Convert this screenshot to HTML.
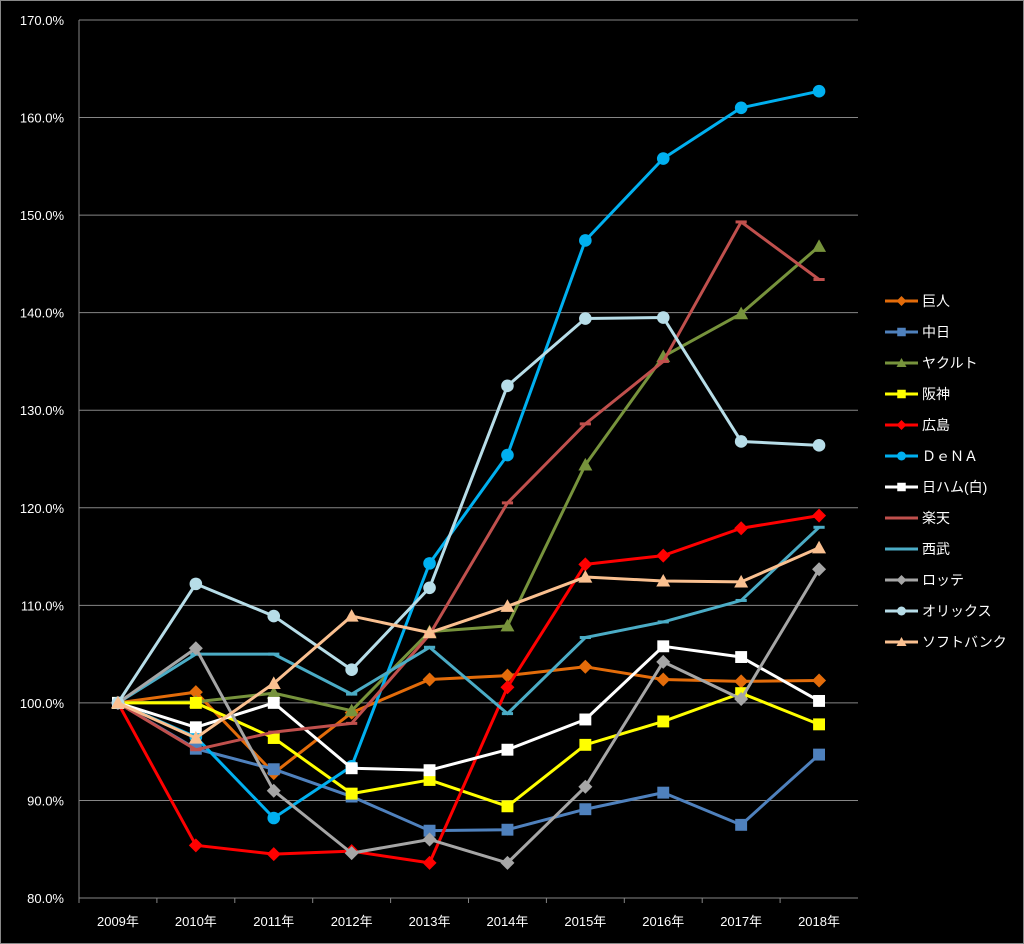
<!DOCTYPE html>
<html><head><meta charset="utf-8"><style>
body{margin:0;background:#000;}
svg{display:block;font-family:"Liberation Sans","Noto Sans CJK JP",sans-serif;}
</style></head><body>
<svg id="chart" width="1024" height="944">
<rect x="0.5" y="0.5" width="1023" height="943" fill="#000" stroke="#888"/>
<g id="grid"></g><g id="axes"></g><g id="series"></g><g id="legend"></g>
</svg>
<script>
const categories=["2009年","2010年","2011年","2012年","2013年","2014年","2015年","2016年","2017年","2018年"];
const yTicks=[80,90,100,110,120,130,140,150,160,170];
const names=["巨人","中日","ヤクルト","阪神","広島","ＤｅＮＡ","日ハム(白)","楽天","西武","ロッテ","オリックス","ソフトバンク"];
const giants=[100,101.1,92.8,99.0,102.4,102.8,103.7,102.4,102.2,102.3];
const chunichi=[100,95.3,93.2,90.4,86.9,87.0,89.1,90.8,87.5,94.7];
const yakult=[100,100.1,101.0,99.2,107.3,107.9,124.4,135.5,139.9,146.8];
const hanshin=[100,100.0,96.4,90.7,92.1,89.4,95.7,98.1,101.0,97.8];
const hiroshima=[100,85.4,84.5,84.8,83.6,101.6,114.2,115.1,117.9,119.2];
const dena=[100,96.5,88.2,93.5,114.3,125.4,147.4,155.8,161.0,162.7];
const nippon=[100,97.5,100.0,93.3,93.1,95.2,98.3,105.8,104.7,100.2];
const rakuten=[100,95.2,97.0,97.9,107.0,120.5,128.6,135.0,149.3,143.4];
const seibu=[100,105.0,105.0,100.9,105.7,98.9,106.7,108.3,110.5,118.0];
const lotte=[100,105.6,91.0,84.6,86.0,83.6,91.4,104.2,100.4,113.7];
const orix=[100,112.2,108.9,103.4,111.8,132.5,139.4,139.5,126.8,126.4];
const softbank=[100,96.4,102.0,108.9,107.2,109.9,112.9,112.5,112.4,115.9];
const seriesData=[giants,chunichi,yakult,hanshin,hiroshima,dena,nippon,rakuten,seibu,lotte,orix,softbank];
const colors=["#e36c0a","#4f81bd","#77933c","#ffff00","#ff0000","#00b0f0","#ffffff","#c0504d","#4bacc6","#a6a6a6","#b7dde8","#fac090"];
const markers=["diamond","square","triangle","square","diamond","circle","square","dash","dash","diamond","circle","triangle"];
const L=79,R=858,T=20,B=898;
const bw=(R-L)/categories.length;
const xs=i=>L+bw*(i+0.5);
const ys=v=>B-(v-80)/90*(B-T);
const NS="http://www.w3.org/2000/svg";
function mk(tag,attrs,parent){const e=document.createElementNS(NS,tag);for(const k in attrs)e.setAttribute(k,attrs[k]);parent.appendChild(e);return e;}
const grid=document.getElementById('grid'),axes=document.getElementById('axes'),sg=document.getElementById('series'),lg=document.getElementById('legend');
yTicks.forEach(t=>{
 const ln=mk('line',{x1:L,x2:R,y1:ys(t),y2:ys(t),stroke:"#868686","stroke-width":1},grid);
 
 
 const tx=mk('text',{x:64,y:ys(t)+5,"text-anchor":"end",fill:"#fff","font-size":13},axes);
 tx.textContent=t.toFixed(1)+"%";
 
 
});
const ax=mk('line',{x1:L,x2:R,y1:B,y2:B,stroke:"#868686"},axes);


const ay=mk('line',{x1:L,x2:L,y1:T,y2:B,stroke:"#868686"},axes);


categories.forEach((c,i)=>{
 const tk=mk('line',{x1:L+bw*i,x2:L+bw*i,y1:B,y2:B+5,stroke:"#868686"},axes);
 
 
 const tx=mk('text',{x:xs(i),y:926,"text-anchor":"middle",fill:"#fff","font-size":13},axes);
 tx.textContent=c;
 
 
});
function marker(type,x,y,col,parent,s){
 let e;
 if(type==="diamond")e=mk('polygon',{points:`${x},${y-s} ${x+s},${y} ${x},${y+s} ${x-s},${y}`,fill:col},parent);
 else if(type==="square")e=mk('rect',{x:x-s*0.85,y:y-s*0.85,width:s*1.7,height:s*1.7,fill:col},parent);
 else if(type==="triangle")e=mk('polygon',{points:`${x},${y-s} ${x+s},${y+s*0.8} ${x-s},${y+s*0.8}`,fill:col},parent);
 else if(type==="circle")e=mk('circle',{cx:x,cy:y,r:s*0.9,fill:col},parent);
 else e=mk('rect',{x:x-s*0.8,y:y-1.5,width:s*1.6,height:3,fill:col},parent);
 return e;
}
seriesData.forEach((d,si)=>{
 const g=mk('g',{},sg);
 
 
 const pl=mk('polyline',{points:d.map((v,i)=>xs(i)+","+ys(v)).join(" "),fill:"none",stroke:colors[si],"stroke-width":3,"stroke-linejoin":"round"},g);
 
 
 d.forEach((v,i)=>{
  const m=marker(markers[si],xs(i),ys(v),colors[si],g,7);
  
  
 });
 const ly=301+si*31;
 const le=mk('g',{},lg);
 
 
 mk('line',{x1:885,x2:918,y1:ly,y2:ly,stroke:colors[si],"stroke-width":3},le);
 marker(markers[si],901.5,ly,colors[si],le,5);
 const t=mk('text',{x:922,y:ly+5,fill:"#fff","font-size":14},le);
 t.textContent=names[si];
});
</script>
</body></html>
